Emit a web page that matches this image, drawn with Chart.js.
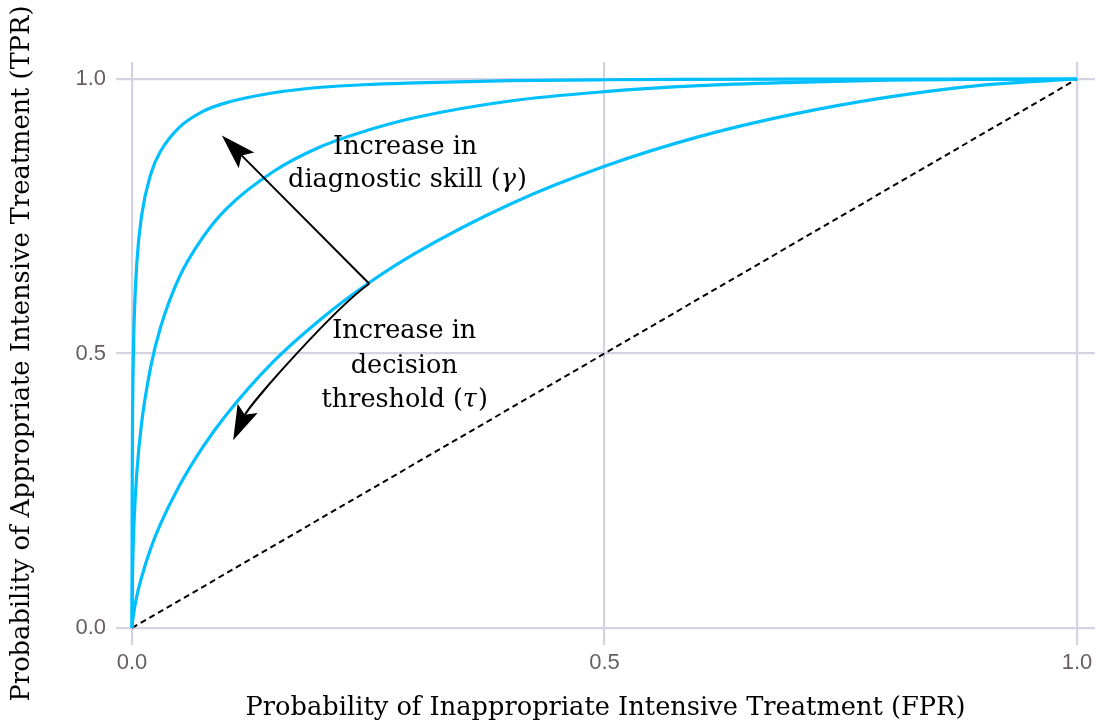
<!DOCTYPE html>
<html>
<head>
<meta charset="utf-8">
<script src="https://cdn.jsdelivr.net/npm/chart.js@4"></script>
<style>
  html, body { margin: 0; padding: 0; background: #fff; }
  #wrap { width: 1100px; height: 727px; }
</style>
</head>
<body>
<div id="wrap"><canvas id="myChart" width="1100" height="727"></canvas></div>
<script>
'use strict';

// FPR points read along the x axis
const fpr = [0, 0.00001, 0.0001, 0.0005, 0.001, 0.002, 0.005, 0.01, 0.02, 0.03, 0.05, 0.075, 0.1, 0.15, 0.2, 0.25, 0.3, 0.4, 0.5, 0.6, 0.7, 0.8, 0.9, 1];

// TPR of each curve
const tprHigh = [0, 0.103, 0.236, 0.386, 0.464, 0.549, 0.664, 0.750, 0.828, 0.868, 0.912, 0.941, 0.957, 0.975, 0.985, 0.990, 0.993, 0.997, 0.9987, 0.9994, 0.9998, 0.9999, 1, 1];
const tprMid = [0, 0.012, 0.043, 0.098, 0.138, 0.190, 0.282, 0.372, 0.478, 0.547, 0.639, 0.712, 0.764, 0.832, 0.877, 0.907, 0.930, 0.960, 0.977, 0.988, 0.994, 0.998, 0.9995, 1];
const tprLow = [0, 0.0005, 0.0033, 0.011, 0.018, 0.030, 0.058, 0.092, 0.146, 0.189, 0.259, 0.330, 0.389, 0.486, 0.563, 0.628, 0.683, 0.772, 0.841, 0.895, 0.936, 0.967, 0.989, 1];

// chance line
const chanceX = [0, 1];
const chanceY = [0, 1];

const tickValues = [0, 0.5, 1];

const xTitle = 'Probability of Inappropriate Intensive Treatment (FPR)';
const yTitle = 'Probability of Appropriate Intensive Treatment (TPR)';

const curveColor = '#00bfff';
const gridColor = '#d5d2e2';
const tickColor = '#665e63';
const serif = '"DejaVu Serif", "Liberation Serif", serif';
const sans = '"Liberation Sans", Arial, sans-serif';
const noteSize = 25.5;

function toPoints(xs, ys) {
  return xs.map((x, i) => ({ x: x, y: ys[i] }));
}

function curve(ys) {
  return {
    data: toPoints(fpr, ys),
    borderColor: curveColor,
    borderWidth: 3.2,
    pointRadius: 0,
    showLine: true,
    cubicInterpolationMode: 'monotone',
    fill: false
  };
}

// arrowhead, tip at (tx,ty), pointing along (ux,uy)
const headLen = 35, headHalf = 11, headNotch = 7;
function arrowHead(ctx, tx, ty, ux, uy) {
  const nx = -uy, ny = ux;
  ctx.beginPath();
  ctx.moveTo(tx, ty);
  ctx.lineTo(tx - headLen * ux + headHalf * nx, ty - headLen * uy + headHalf * ny);
  ctx.lineTo(tx - (headLen - headNotch) * ux, ty - (headLen - headNotch) * uy);
  ctx.lineTo(tx - headLen * ux - headHalf * nx, ty - headLen * uy - headHalf * ny);
  ctx.closePath();
  ctx.fill();
}

// text with an italic greek letter inside brackets, centred on x
function mathLine(ctx, before, sym, after, x, y) {
  const normal = noteSize + 'px ' + serif;
  const italic = 'italic ' + noteSize + 'px ' + serif;
  ctx.font = normal;
  const w1 = ctx.measureText(before).width;
  const w3 = ctx.measureText(after).width;
  ctx.font = italic;
  const w2 = ctx.measureText(sym).width;
  let left = x - (w1 + w2 + w3) / 2;
  ctx.textAlign = 'left';
  ctx.font = normal;
  ctx.fillText(before, left, y);
  ctx.font = italic;
  ctx.fillText(sym, left + w1, y);
  ctx.font = normal;
  ctx.fillText(after, left + w1 + w2 + 1, y);
  ctx.textAlign = 'center';
}

const notes = {
  id: 'notes',
  afterDatasetsDraw(chart) {
    const ctx = chart.ctx;
    const sx = chart.scales.x, sy = chart.scales.y;
    const px = v => sx.getPixelForValue(v);
    const py = v => sy.getPixelForValue(v);

    ctx.save();
    ctx.strokeStyle = '#000';
    ctx.fillStyle = '#000';
    ctx.lineWidth = 2;

    // start point on the lowest curve
    const x0 = px(0.251), y0 = py(0.627);

    // straight arrow: skill
    let x1 = px(0.095), y1 = py(0.897);
    let dx = x1 - x0, dy = y1 - y0, d = Math.hypot(dx, dy);
    let ux = dx / d, uy = dy / d;
    ctx.beginPath();
    ctx.moveTo(x0, y0);
    ctx.lineTo(x1 - 28 * ux, y1 - 28 * uy);
    ctx.stroke();
    arrowHead(ctx, x1, y1, ux, uy);

    // curved arrow: threshold
    const x2 = px(0.107), y2 = py(0.342);
    const c1x = px(0.216), c1y = py(0.585);
    const c2x = px(0.1247), c2y = py(0.409);
    dx = x2 - c2x; dy = y2 - c2y; d = Math.hypot(dx, dy);
    ux = dx / d; uy = dy / d;
    ctx.beginPath();
    ctx.moveTo(x0, y0);
    ctx.bezierCurveTo(c1x, c1y, c2x, c2y, x2 - 26 * ux, y2 - 26 * uy);
    ctx.stroke();
    arrowHead(ctx, x2, y2, ux, uy);

    // labels
    ctx.font = noteSize + 'px ' + serif;
    ctx.textAlign = 'center';
    ctx.textBaseline = 'middle';
    ctx.fillText('Increase in', px(0.289), py(0.876));
    mathLine(ctx, 'diagnostic skill (', '\u03B3', ')', px(0.291), py(0.816));
    ctx.fillText('Increase in', px(0.288), py(0.541));
    ctx.fillText('decision', px(0.288), py(0.477));
    mathLine(ctx, 'threshold (', '\u03C4', ')', px(0.288), py(0.415));
    ctx.restore();
  }
};

function fixedTicks(scale) {
  scale.ticks = tickValues.map(v => ({ value: v }));
}

const ctx = document.getElementById('myChart').getContext('2d');
const chart = new Chart(ctx, {
  type: 'scatter',
  data: {
    datasets: [
      curve(tprHigh),
      curve(tprMid),
      curve(tprLow),
      {
        data: toPoints(chanceX, chanceY),
        borderColor: '#000',
        borderWidth: 2,
        borderDash: [6, 4],
        pointRadius: 0,
        showLine: true,
        fill: false
      }
    ]
  },
  options: {
    responsive: false,
    animation: false,
    layout: { padding: { top: 62, right: 5, left: 0, bottom: 0 } },
    plugins: { legend: { display: false }, tooltip: { enabled: false } },
    scales: {
      x: {
        type: 'linear',
        min: -0.017,
        max: 1.019,
        afterBuildTicks: fixedTicks,
        afterFit: s => { s.height = 82; },
        grid: { color: gridColor, lineWidth: 2.2, drawTicks: false },
        border: { display: false },
        ticks: {
          color: tickColor,
          font: { family: sans, size: 22 },
          padding: 5,
          callback: v => Number(v).toFixed(1)
        },
        title: {
          display: true,
          text: xTitle,
          color: '#000',
          font: { family: serif, size: 25.7 },
          padding: { top: 0, bottom: 3 }
        }
      },
      y: {
        type: 'linear',
        min: -0.031,
        max: 1.031,
        afterBuildTicks: fixedTicks,
        afterFit: s => { s.width = 116; },
        grid: { color: gridColor, lineWidth: 2.2, drawTicks: false },
        border: { display: false },
        ticks: {
          color: tickColor,
          font: { family: sans, size: 22 },
          padding: 10,
          callback: v => Number(v).toFixed(1)
        },
        title: {
          display: true,
          text: yTitle,
          color: '#000',
          font: { family: serif, size: 25.7 },
          padding: { top: 7, bottom: 0 }
        }
      }
    }
  },
  plugins: [notes]
});
</script>
</body>
</html>
